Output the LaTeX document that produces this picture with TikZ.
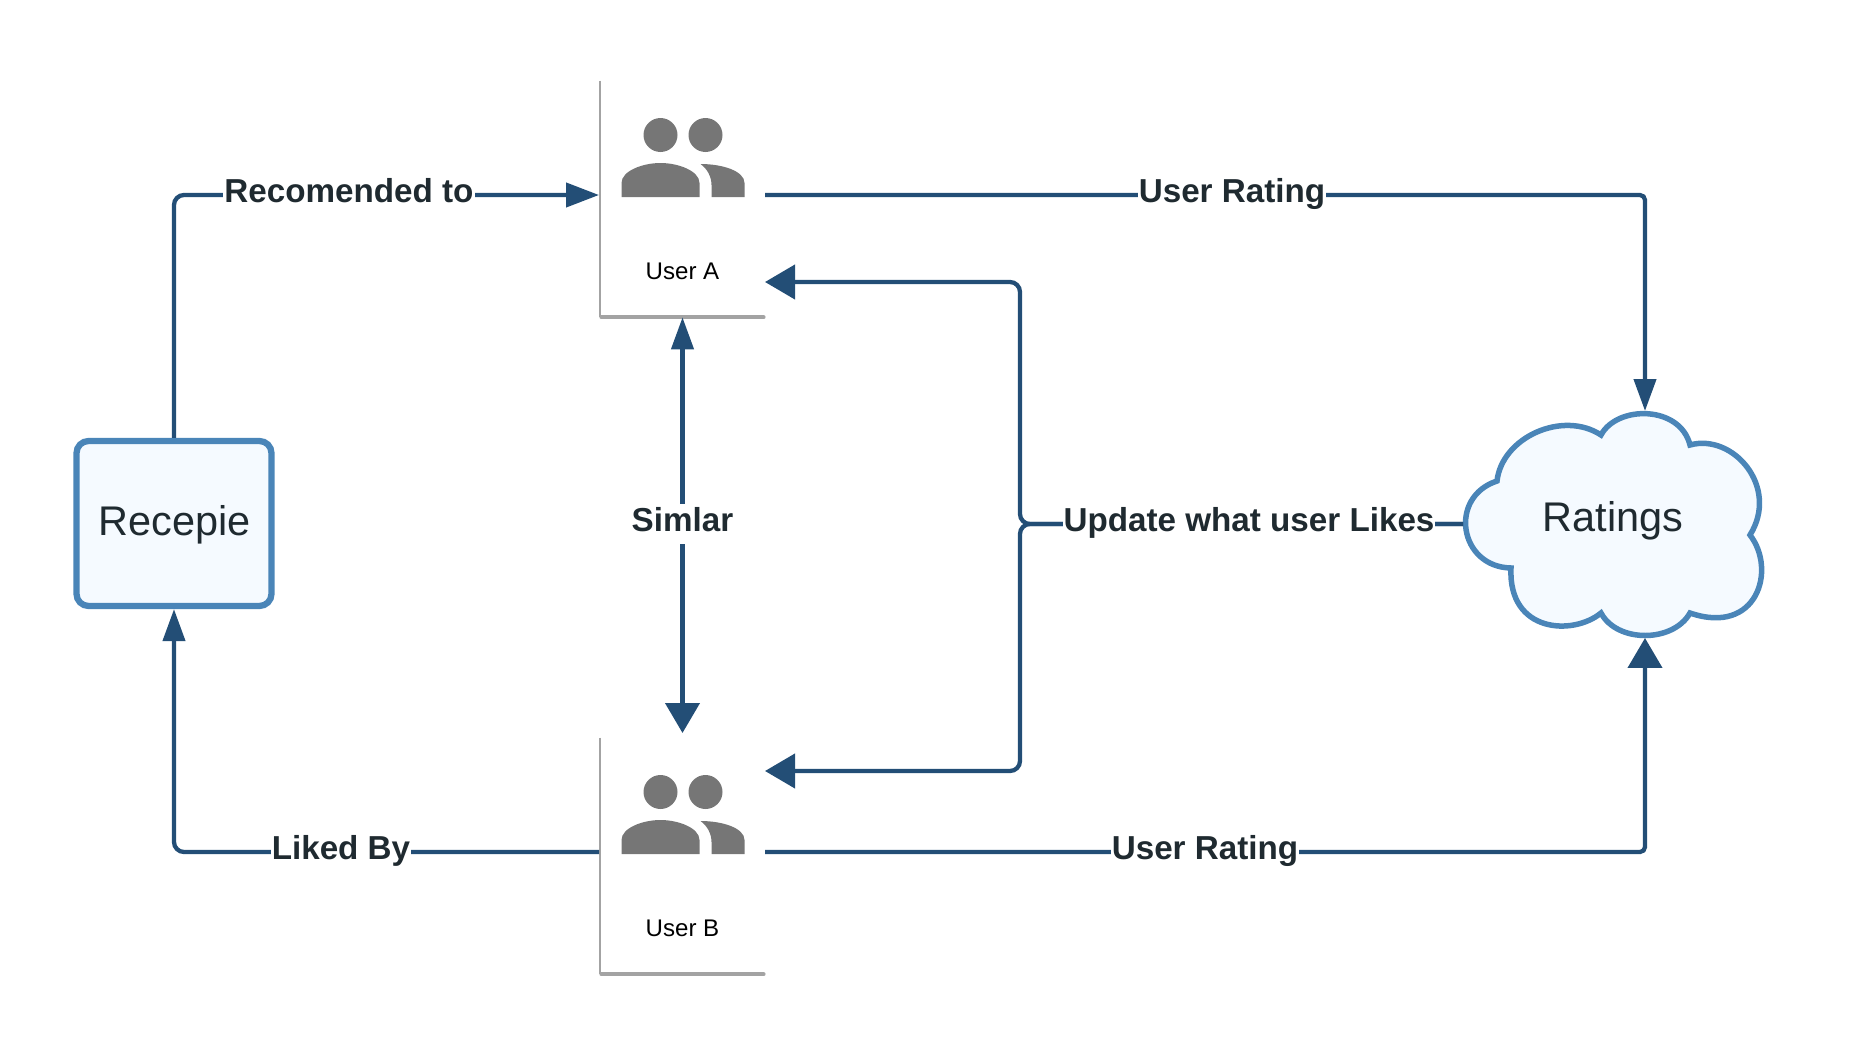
\documentclass[tikz,border=0pt]{standalone}
\usepackage{fontspec}
\setmainfont{Liberation Sans}
\usetikzlibrary{arrows.meta}

\definecolor{linkblue}{HTML}{234E76}
\definecolor{shapeblue}{HTML}{4A85B8}
\definecolor{shapefill}{HTML}{F5FAFF}
\definecolor{inkdark}{HTML}{1F2A30}
\definecolor{icongrey}{HTML}{767676}
\definecolor{cardgrey}{HTML}{A3A3A3}

\tikzset{
  smalltip/.tip={Triangle[length=0.64cm,width=0.44cm]},
  midtip/.tip={Triangle[length=0.66cm,width=0.48cm]},
  bigtip/.tip={Triangle[length=0.6cm,width=0.68cm]},
  link/.style={draw=linkblue, line width=0.085cm, rounded corners=0.2cm},
  edgelabel/.style={font=\fontsize{18.9}{22}\selectfont\bfseries, text=inkdark, fill=white, inner sep=0.02cm, anchor=base},
  shapelabel/.style={font=\fontsize{23.6}{27}\selectfont, text=inkdark, inner sep=0pt, anchor=base},
  cardlabel/.style={font=\fontsize{13.7}{16}\selectfont, text=black, inner sep=0pt, anchor=base},
  usercard/.style={minimum width=3.31cm, minimum height=4.72cm, inner sep=0pt},
  users icon/.pic={
    \fill[icongrey] (-22,-64) circle (17);
    \fill[icongrey] (23,-64) circle (17);
    \fill[icongrey] (-61,-2) -- (-61,-16) .. controls (-61,-28) and (-40,-36) .. (-22,-36)
      .. controls (-4,-36) and (17,-28) .. (17,-16) -- (17,-2) -- cycle;
    \fill[icongrey] (18,-35) .. controls (40,-35) and (62,-28) .. (62,-16) -- (62,-2) -- (29,-2) -- (29,-14)
      .. controls (29,-22) and (25,-30) .. (18,-35) -- cycle;
  }
}

\begin{document}
\begin{tikzpicture}[x=0.02cm, y=-0.02cm]
  \useasboundingbox (0,0) rectangle (1854,1048);

  % cards
  \node[usercard] (userA) at (682.5,199) {};
  \node[usercard] (userB) at (682.5,856) {};
  \foreach \card in {userA,userB} {
    \draw[cardgrey, line width=0.03cm] ([xshift=0.015cm]\card.north west) -- ([xshift=0.015cm]\card.south west);
    \draw[cardgrey, line width=0.08cm, line cap=round] ([xshift=0.04cm]\card.south west) -- ([xshift=-0.04cm]\card.south east);
    \pic at (\card.center) {users icon};
  }
  \node[cardlabel] (userAtext) at (682.5,279) {User A};
  \node[cardlabel] (userBtext) at (682.5,936) {User B};

  % recipe box and cloud
  \node[draw=shapeblue, fill=shapefill, line width=0.125cm, rounded corners=0.24cm, minimum width=3.9cm, minimum height=3.3cm] (recepie) at (174,523.5) {};
  \node[shapelabel] (recepietext) at (174.5,535) {Recepie};
  \draw[draw=shapeblue, fill=shapefill, line width=0.11cm]
    (1497,481) .. controls (1502,437) and (1563,410) .. (1601,435)
    .. controls (1617,405) and (1680,405) .. (1690,445)
    .. controls (1733,433) and (1780,487) .. (1750,535)
    .. controls (1777,570) and (1757,636) .. (1690,613)
    .. controls (1673,643) and (1617,643) .. (1601,613)
    .. controls (1573,636) and (1508,633) .. (1511,568)
    .. controls (1459,567) and (1448,497) .. (1497,481) -- cycle;
  \node[shapelabel] (ratings) at (1613,531) {Ratings};

  % connector ends
  \coordinate (userAin) at (599,195);
  \coordinate (userAout) at (765,195);
  \coordinate (userAback) at (765,282);
  \coordinate (userBout) at (765,852);
  \coordinate (userBleft) at (599,852);
  \coordinate (userBback) at (765,771);
  \coordinate (userBtop) at (682.5,733);
  \coordinate (ratingstop) at (1645,411);
  \coordinate (ratingsbottom) at (1645,638);
  \coordinate (ratingsleft) at (1463,524);
  \coordinate (forkpoint) at (1020,524);

  \draw[link, -midtip] (recepie.north) |- (userAin);
  \draw[link, -smalltip, rounded corners=0.1cm] (userAout) -| (ratingstop);
  \draw[link, -bigtip, rounded corners=0.1cm] (userBout) -| (ratingsbottom);
  \draw[link, -smalltip] (userBleft) -| (recepie.south);
  \draw[link, smalltip-bigtip] (userA.south) -- (userBtop);
  \draw[link, -bigtip] (ratingsleft) -- (forkpoint) |- (userAback);
  \draw[link, -bigtip] (ratingsleft) -- (forkpoint) |- (userBback);

  % labels on the connectors
  \node[edgelabel] (recomended) at (349,202) {Recomended to};
  \node[edgelabel] (ratingA) at (1232,202) {User Rating};
  \node[edgelabel] (likedby) at (341,859) {Liked By};
  \node[edgelabel] (ratingB) at (1205,859) {User Rating};
  \node[edgelabel, inner ysep=0.06cm, text depth=0.2cm] (simlar) at (682.5,531) {Simlar};
  \node[edgelabel] (update) at (1249,531) {Update what user Likes};
\end{tikzpicture}
\end{document}
